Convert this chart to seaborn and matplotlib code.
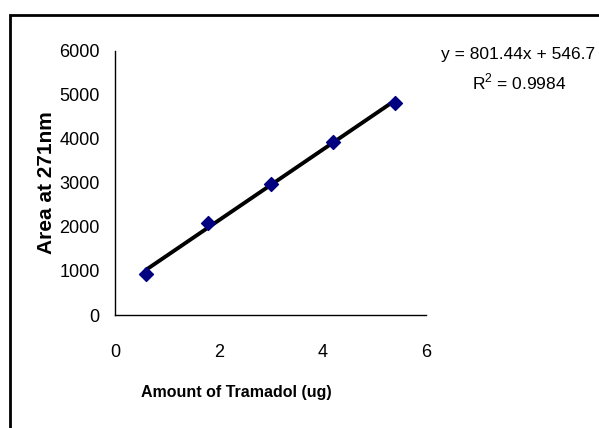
import matplotlib
matplotlib.use("Agg")
import matplotlib.pyplot as plt
import matplotlib.patches as mpatches
import seaborn as sns
import pandas as pd

amount_ug = [0.6, 1.8, 3.0, 4.2, 5.4]
area_271nm = [930, 2095, 2973, 3920, 4820]
y_ticks = [0, 1000, 2000, 3000, 4000, 5000, 6000]
x_ticks = [0, 2, 4, 6]
equation_text = "y = 801.44x + 546.7"
r2_text = "R$^2$ = 0.9984"

sns.set_style("white")
plt.rcParams['font.family'] = ['Liberation Sans', 'DejaVu Sans']
plt.rcParams['text.color'] = 'black'
plt.rcParams['axes.labelcolor'] = 'black'
plt.rcParams['xtick.color'] = 'black'
plt.rcParams['ytick.color'] = 'black'
plt.rcParams['mathtext.fontset'] = 'custom'
plt.rcParams['mathtext.rm'] = 'Liberation Sans'

df = pd.DataFrame({"x": amount_ug, "y": area_271nm})

fig = plt.figure(figsize=(5.99, 4.28), dpi=100)
ax = fig.add_axes([115/599, 1-315/428, (426-115)/599, (315-50.7)/428])

sns.regplot(data=df, x="x", y="y", ax=ax, ci=None, truncate=True,
            marker="D", color="black",
            scatter_kws=dict(color="#000080", s=50, zorder=3, edgecolor="#000080",
                             alpha=1),
            line_kws=dict(color="black", lw=2.8, zorder=2))

ax.set_xlim(0, 6)
ax.set_ylim(0, 6000)
ax.set_xticks(x_ticks)
ax.set_yticks(y_ticks)
ax.set_xticklabels([str(t) for t in x_ticks], fontsize=13)
ax.set_yticklabels([str(t) for t in y_ticks], fontsize=13)
for s in ["top", "right"]:
    ax.spines[s].set_visible(False)
for s in ["left", "bottom"]:
    ax.spines[s].set_color("black")
    ax.spines[s].set_linewidth(1.0)
ax.tick_params(axis="both", direction="out", length=5, width=1, color="black", pad=6,
               labelcolor="black")
ax.tick_params(axis="x", pad=16)

ax.set_xlabel("Amount of Tramadol (ug)", fontsize=11.5, fontweight="bold",
              color="black")
ax.xaxis.set_label_coords((236 - 115) / 311, (315 - 385) / 264.3)
ax.set_ylabel("Area at 271nm", fontsize=15, fontweight="bold",
              color="black", labelpad=2)

fig.text(518/599, 1-55/428, equation_text, ha="center", va="center", fontsize=12.5,
         color="black")
fig.text(519/599, 1-82/428, r2_text, ha="center", va="center", fontsize=12.5,
         color="black")

border = mpatches.Rectangle((10/599, -0.2), 1.2, 1 - 15/428 + 0.2, transform=fig.transFigure,
                            fill=False, edgecolor="black", lw=2, clip_on=False)
fig.add_artist(border)

fig.savefig("out.png", dpi=100)
